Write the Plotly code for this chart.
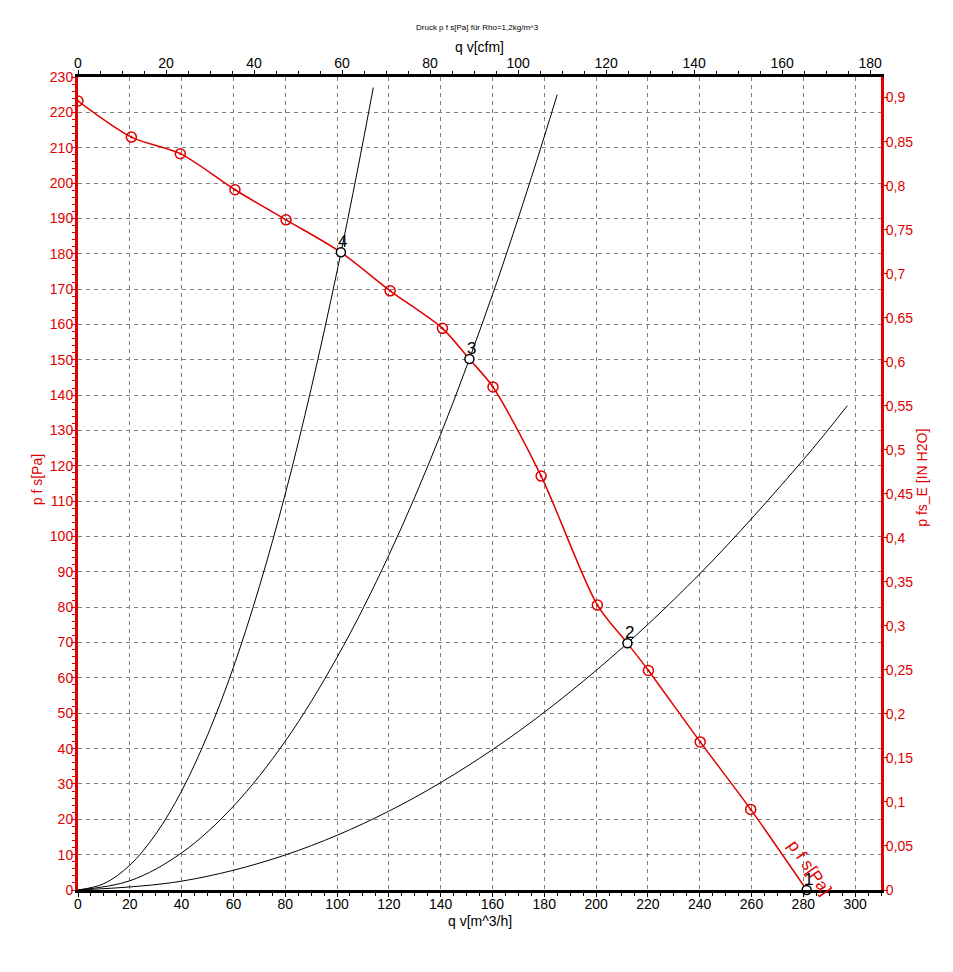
import plotly.graph_objects as go

# Fan curve (p f s)
fan_q = [0, 20.6, 39.5, 60.6, 80.3, 101.5, 120.5, 140.7, 151.1, 160.2, 178.8, 200.5, 212.1, 220.2, 240.2, 259.7, 281.3]
fan_p = [223.2, 213.0, 208.3, 198.1, 189.6, 180.4, 169.5, 158.9, 150.2, 142.3, 117.1, 80.6, 69.8, 62.1, 41.9, 22.8, 0.0]
marker_q = [0, 20.6, 39.5, 60.6, 80.3, 120.5, 140.7, 160.2, 178.8, 200.5, 220.2, 240.2, 259.7]
marker_p = [223.2, 213.0, 208.3, 198.1, 189.6, 169.5, 158.9, 142.3, 117.1, 80.6, 62.1, 41.9, 22.8]

# Operating points
op_labels = ["1", "2", "3", "4"]
op_q = [281.3, 212.1, 151.1, 101.5]
op_p = [0.0, 69.8, 150.2, 180.4]

# System curves
sys4_q = [0, 10, 20, 30, 40, 50, 60, 70, 80, 90, 100, 108, 114]
sys4_p = [0, 1.8, 7.0, 15.8, 28.0, 43.8, 63.0, 85.8, 112.0, 141.8, 175.0, 204.0, 227.0]
sys3_q = [0, 20, 40, 60, 80, 100, 120, 140, 160, 175, 185]
sys3_p = [0, 2.6, 10.5, 23.7, 42.1, 65.8, 94.7, 128.9, 168.4, 201.5, 225.0]
sys2_q = [0, 40, 80, 120, 160, 200, 240, 280, 297]
sys2_p = [0, 2.5, 9.9, 22.3, 39.7, 62.1, 89.4, 121.7, 137.0]

x_ticks = [0, 20, 40, 60, 80, 100, 120, 140, 160, 180, 200, 220, 240, 260, 280, 300]
y_ticks = list(range(0, 231, 10))
cfm_ticks = [0, 20, 40, 60, 80, 100, 120, 140, 160, 180]
inh2o_ticks = [round(0.05 * i, 2) for i in range(19)]

X_MAX = 310
Y_MAX = 230
CFM_PER_M3H = 0.588578
PA_PER_INH2O = 249.089

RED = "#e00000"
FONT = "Liberation Sans, Arial, sans-serif"

fig = go.Figure()

for q, p in [(sys4_q, sys4_p), (sys3_q, sys3_p), (sys2_q, sys2_p)]:
    fig.add_trace(go.Scatter(x=q, y=p, mode="lines", line=dict(color="black", width=1, shape="spline"),
                             hoverinfo="skip", showlegend=False))

fig.add_trace(go.Scatter(x=fan_q, y=fan_p, mode="lines", line=dict(color=RED, width=1.5, shape="spline", smoothing=0.8),
                         showlegend=False))
fig.add_trace(go.Scatter(x=marker_q, y=marker_p, mode="markers",
                         marker=dict(symbol="circle-dot", size=10, color="rgba(0,0,0,0)",
                                     line=dict(color=RED, width=1.5)),
                         showlegend=False))
fig.add_trace(go.Scatter(x=op_q, y=op_p, mode="markers",
                         marker=dict(symbol="circle", size=9, color="white", line=dict(color="black", width=1.5)),
                         showlegend=False, cliponaxis=False))

for lab, q, p in zip(op_labels, op_q, op_p):
    fig.add_annotation(x=q, y=p, xref="x", yref="y", text=lab, showarrow=False, yshift=11, xshift=2,
                       font=dict(size=17, color="black", family=FONT))

# invisible trace to activate the secondary axes
fig.add_trace(go.Scatter(x=[0], y=[0], xaxis="x2", yaxis="y2", mode="markers",
                         marker=dict(opacity=0), hoverinfo="skip", showlegend=False))

fig.add_annotation(x=282.5, y=6.5, xref="x", yref="y", text="p f s[Pa]", showarrow=False,
                   textangle=55, font=dict(size=17, color=RED, family=FONT))

# titles (positioned in paper coordinates)
TA = dict(xref="paper", yref="paper", xanchor="center", yanchor="middle", showarrow=False)
fig.add_annotation(x=0.498, y=1.0615, text="Druck p f s[Pa] für Rho=1,2kg/m^3",
                   font=dict(size=8, color="black", family=FONT), **TA)
fig.add_annotation(x=0.5, y=1.037, text="q v[cfm]",
                   font=dict(size=14, color="black", family=FONT), **TA)
fig.add_annotation(x=0.5, y=-0.038, text="q v[m^3/h]",
                   font=dict(size=14, color="black", family=FONT), **TA)
fig.add_annotation(x=-0.051, y=0.504, text="p f s[Pa]", textangle=-90,
                   font=dict(size=14, color=RED, family=FONT), **TA)
fig.add_annotation(x=1.051, y=0.507, text="p fs_E [IN H2O]", textangle=-90,
                   font=dict(size=14, color=RED, family=FONT), **TA)

GRID = dict(showgrid=True, gridcolor="#808080", griddash="4px,4px", gridwidth=1)

fig.update_layout(
    width=953, height=972,
    margin=dict(l=70, r=80, t=69, b=90),
    paper_bgcolor="white", plot_bgcolor="white",
    separators=",.",
    font=dict(family=FONT, size=14, color="black"),
    xaxis=dict(range=[0, X_MAX], tickvals=x_ticks, **GRID,
               zeroline=False, showline=True, linecolor="black", linewidth=3, automargin=False,
               ticks="outside", ticklen=4, tickcolor="black", tickfont=dict(size=14, color="black"),
               ticklabelstandoff=-5,
               minor=dict(dtick=5, ticks="outside", ticklen=3, tickcolor="black", showgrid=False)),
    yaxis=dict(range=[0, Y_MAX], tickvals=y_ticks, **GRID,
               zeroline=False, showline=True, linecolor=RED, linewidth=3, automargin=False,
               ticks="outside", ticklen=4, tickcolor=RED, tickfont=dict(size=14, color=RED),
               ticklabelstandoff=-5,
               minor=dict(dtick=2, ticks="outside", ticklen=3, tickcolor=RED, showgrid=False)),
    xaxis2=dict(range=[0, X_MAX * CFM_PER_M3H], overlaying="x", side="top", anchor="y2", automargin=False,
                tickvals=cfm_ticks, showgrid=False, zeroline=False, showline=True, linecolor="black", linewidth=3,
                ticks="outside", ticklen=4, tickcolor="black", tickfont=dict(size=14, color="black"),
                ticklabelstandoff=-4,
                minor=dict(dtick=5, ticks="outside", ticklen=3, tickcolor="black", showgrid=False)),
    yaxis2=dict(range=[0, Y_MAX / PA_PER_INH2O], overlaying="y", side="right", anchor="x2", automargin=False,
                tickvals=inh2o_ticks, showgrid=False, zeroline=False, showline=True, linecolor=RED, linewidth=3,
                ticks="outside", ticklen=4, tickcolor=RED, tickfont=dict(size=14, color=RED),
                ticklabelstandoff=-5,
                minor=dict(nticks=5, ticks="outside", ticklen=3, tickcolor=RED, showgrid=False)),
)

fig.write_html("out.html")
